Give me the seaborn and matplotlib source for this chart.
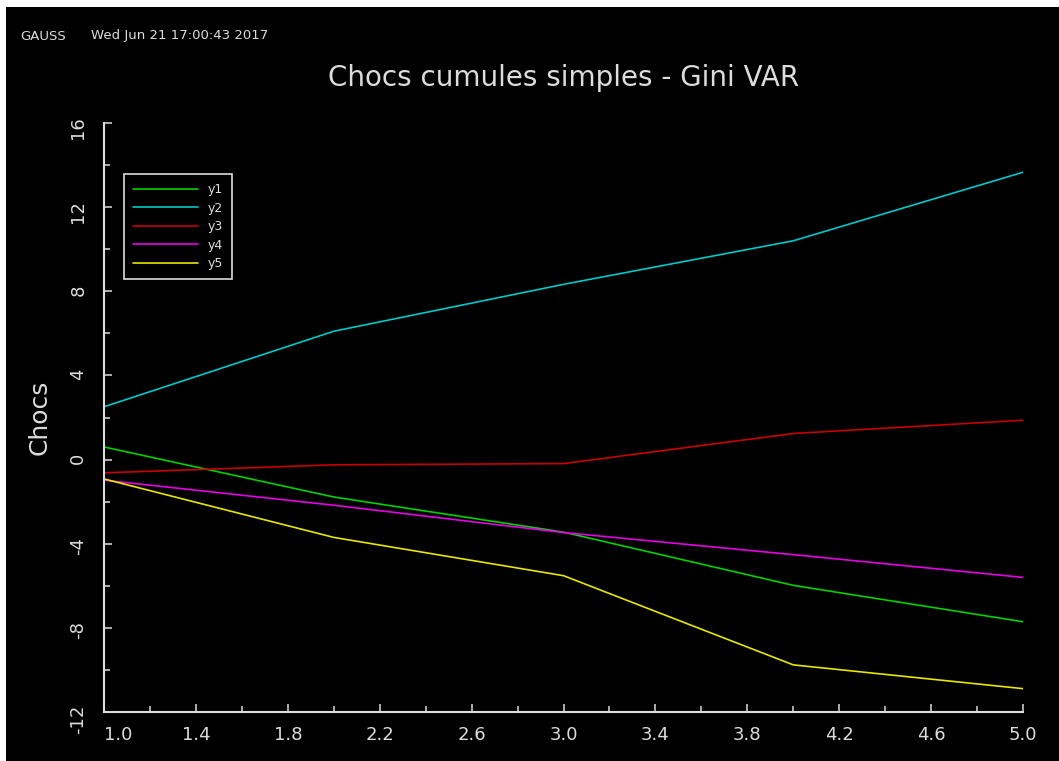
import matplotlib.pyplot as plt
import seaborn as sns
from matplotlib.ticker import MultipleLocator
from matplotlib.patches import Rectangle

# values
periods = [1, 2, 3, 4, 5]
y1 = [0.60, -1.78, -3.45, -5.98, -7.71]
y2 = [2.51, 6.10, 8.33, 10.40, 13.66]
y3 = [-0.63, -0.25, -0.19, 1.24, 1.87]
y4 = [-0.98, -2.17, -3.47, -4.52, -5.60]
y5 = [-0.92, -3.70, -5.52, -9.76, -10.89]

series_names = ['y1', 'y2', 'y3', 'y4', 'y5']
series_colors = ['#00d000', '#00c8c8', '#c80000', '#e600e6', '#e6e600']

x_ticks = [1.0, 1.4, 1.8, 2.2, 2.6, 3.0, 3.4, 3.8, 4.2, 4.6, 5.0]
x_tick_labels = ['1.0', '1.4', '1.8', '2.2', '2.6', '3.0', '3.4', '3.8', '4.2', '4.6', '5.0']
y_ticks = [-12, -8, -4, 0, 4, 8, 12, 16]
y_tick_labels = ['-12', '-8', '-4', '0', '4', '8', '12', '16']

fg = '#dcdcdc'

sns.set_theme(style='dark', rc={'axes.facecolor': 'black', 'figure.facecolor': 'black',
                                'text.color': fg, 'axes.labelcolor': fg})
plt.rcParams['font.family'] = ['DejaVu Sans']

fig = plt.figure(figsize=(10.59, 7.61), dpi=100)
ax = fig.add_axes([104 / 1059, 49 / 761, 919 / 1059, 589 / 761])

for name, vals, col in zip(series_names, [y1, y2, y3, y4, y5], series_colors):
    sns.lineplot(x=periods, y=vals, color=col, label=name, linewidth=1.2, ax=ax)

ax.set_xlim(1, 5)
ax.set_ylim(-12, 16)
ax.set_xticks(x_ticks, x_tick_labels)
ax.set_yticks(y_ticks, y_tick_labels)
ax.xaxis.set_minor_locator(MultipleLocator(0.2))
ax.yaxis.set_minor_locator(MultipleLocator(2))
ax.grid(False)

for side in ['top', 'right']:
    ax.spines[side].set_visible(False)
for side in ['left', 'bottom']:
    ax.spines[side].set_visible(True)
    ax.spines[side].set_color(fg)
    ax.spines[side].set_linewidth(1.5)

ax.tick_params(which='both', direction='in', color=fg, width=1.1, labelcolor=fg, labelsize=13,
               bottom=True, left=True)
ax.tick_params(which='major', length=6)
ax.tick_params(which='minor', length=4)
ax.tick_params(axis='x', pad=10)
ax.tick_params(axis='y', pad=12, labelrotation=90)
ax.get_xticklabels()[0].set_ha('left')

ax.set_title('Chocs cumules simples - Gini VAR', fontsize=20, color=fg, pad=27)
ax.set_xlabel('')
ax.set_ylabel('Chocs', fontsize=18, color=fg)
ax.yaxis.set_label_coords(-0.057, 0.5)

leg = ax.legend(loc='upper left', bbox_to_anchor=(0.0218, 0.913), borderaxespad=0,
                frameon=True, facecolor='black', edgecolor=fg, framealpha=1, fancybox=False,
                fontsize=9, handlelength=5.2, handletextpad=0.8, labelspacing=0.45,
                borderpad=0.7, labelcolor=fg)
leg.get_frame().set_linewidth(1.2)

fig.text(20 / 1059, 1 - 36 / 761, 'GAUSS', fontsize=9.5, va='center', color=fg)
fig.text(91 / 1059, 1 - 36 / 761, 'Wed Jun 21 17:00:43 2017', fontsize=9.5, va='center', color=fg)

# white screen border at top and left
fig.add_artist(Rectangle((0, 1 - 7 / 761), 1, 7 / 761, transform=fig.transFigure,
                         facecolor='white', edgecolor='none'))
fig.add_artist(Rectangle((0, 0), 6 / 1059, 1, transform=fig.transFigure,
                         facecolor='white', edgecolor='none'))

fig.savefig('out.png', dpi=100, facecolor=fig.get_facecolor())
